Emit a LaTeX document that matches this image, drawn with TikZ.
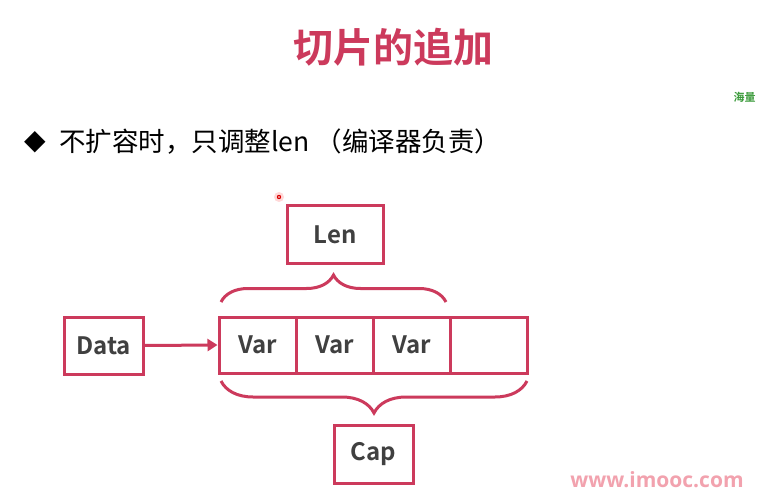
\documentclass[tikz,border=0pt]{standalone}
\usepackage{fontspec}
\setmainfont{Noto Sans CJK SC}
\newfontfamily\cjkbold{Noto Sans CJK SC Bold}
\newfontfamily\cjkreg{Noto Sans CJK SC}
\newfontfamily\symfont{DejaVu Sans}
\usetikzlibrary{decorations.pathreplacing,arrows.meta}
\definecolor{slidered}{HTML}{CC3A5C}
\definecolor{labelgray}{HTML}{404040}
\definecolor{markgreen}{HTML}{3A9A3A}
\definecolor{markpink}{HTML}{F2A2AE}
\tikzset{
  cell/.style={draw=slidered, line width=3pt, minimum width=77pt, minimum height=56pt,
    inner sep=0pt, text=labelgray, font=\cjkbold\fontsize{24}{26}\selectfont},
  curly/.style={draw=slidered, line width=3pt, decorate},
  link/.style={draw=slidered, line width=3pt, -{Triangle[length=10pt,width=12pt]}},
}
\begin{document}
\begin{tikzpicture}[x=1pt,y=-1pt]
\fill[white] (0,0) rectangle (759,494);
\useasboundingbox (0,0) rectangle (759,494);

% heading
\node[text=slidered, font=\cjkbold\fontsize{40}{44}\selectfont] (title) at (393,47) {切片的追加};
\node[text=markgreen, font=\cjkbold\fontsize{11}{12}\selectfont, anchor=west] (mark) at (730,97) {海量};

% bullet line
\node[font=\symfont\fontsize{28}{30}\selectfont, anchor=center] (dia) at (35,142) {◆};
\node[font=\cjkreg\fontsize{26.5}{28}\selectfont, anchor=west, inner sep=0pt] (bul) at (59,142) {不扩容时，只调整len （编译器负责）};

% laser pointer dot
\fill[red!25, opacity=0.6] (279,197) circle (5);
\fill[red!85!black] (279,197) circle (2.2);
\fill[white] (279,197) circle (0.9);

% boxes
\node[cell, minimum width=96pt, minimum height=57pt] (len) at (335,234.5) {Len};
\node[cell, minimum width=79pt, minimum height=57pt] (data) at (103.5,345.5) {Data};
\node[cell] (v1) at (257.5,345) {Var};
\node[cell] (v2) at (334.5,345) {Var};
\node[cell] (v3) at (411.5,345) {Var};
\node[cell] (v4) at (488.5,345) {};
\node[cell, minimum width=79pt, minimum height=58pt] (cap) at (373.5,454) {Cap};

% pointer from Data into the array
\draw[link] (data.east) -- (v1.west);

% braces
\coordinate (lenL) at (221,302);
\coordinate (lenR) at (446,302);
\coordinate (capL) at (221,381);
\coordinate (capR) at (527,381);
\draw[curly, decoration={brace, amplitude=27pt, aspect=0.5}] (lenL) -- (lenR);
\draw[curly, decoration={brace, amplitude=32pt, aspect=0.5}] (capR) -- (capL);

% site mark
\node[text=markpink, font=\fontspec{Open Sans Bold}\fontsize{21}{22}\selectfont, inner sep=0pt] (site) at (657,480) {www.imooc.com};
\end{tikzpicture}
\end{document}
